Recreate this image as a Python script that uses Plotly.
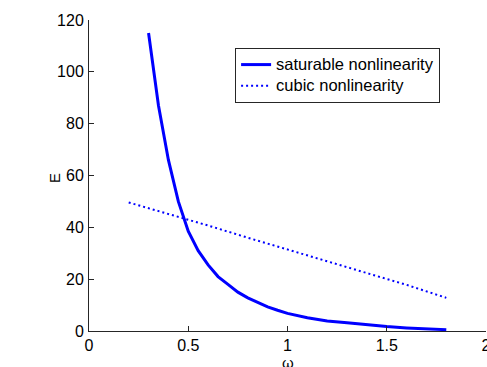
import plotly.graph_objects as go

# Saturable nonlinearity: omega vs E
omega_sat = [0.30, 0.35, 0.40, 0.45, 0.50, 0.55, 0.60, 0.65, 0.70, 0.75, 0.80,
             0.85, 0.90, 0.95, 1.00, 1.10, 1.20, 1.30, 1.40, 1.50, 1.60, 1.70, 1.80]
E_sat = [115, 87, 66, 50, 38.5, 31, 25.5, 21, 18, 15, 12.8,
         11, 9.3, 8, 6.8, 5.1, 3.9, 3.2, 2.4, 1.7, 1.2, 0.8, 0.5]

# Cubic nonlinearity
omega_cub = [0.2, 0.4, 0.6, 0.8, 1.0, 1.2, 1.4, 1.6, 1.8]
E_cub = [49.6, 45.3, 40.7, 36.0, 31.5, 27.1, 22.5, 17.8, 12.8]

x_ticks = [0, 0.5, 1, 1.5, 2]
x_tick_labels = ["0", "0.5", "1", "1.5", "2"]
y_ticks = [0, 20, 40, 60, 80, 100, 120]

FONT = "Liberation Sans, Arial, Helvetica, sans-serif"
AX = "#262626"

fig = go.Figure()
fig.add_trace(go.Scatter(x=omega_sat, y=E_sat, mode="lines",
                         name='<span style="font-size:16.5px">saturable nonlinearity</span>',
                         line=dict(color="#0000FF", width=3)))
fig.add_trace(go.Scatter(x=omega_cub, y=E_cub, mode="lines",
                         name='<span style="font-size:16.5px">cubic nonlinearity</span>',
                         line=dict(color="#0000FF", width=2, dash="2px,3px")))

plot_w = 487 - 89 - 1
plot_h = 367 - 20 - 36

fig.update_layout(
    width=487, height=367,
    margin=dict(l=89, r=1, t=20, b=36, autoexpand=False),
    paper_bgcolor="white", plot_bgcolor="white",
    font=dict(family=FONT, size=16, color="black"),
    showlegend=True,
    legend=dict(x=0.368, y=0.91, xanchor="left", yanchor="top",
                bordercolor=AX, borderwidth=1, bgcolor="white",
                font=dict(size=14, family=FONT), tracegroupgap=0),
    xaxis=dict(range=[0, 2], tickvals=x_ticks, ticktext=x_tick_labels,
               showline=True, linecolor=AX, linewidth=1, mirror=False, automargin=False,
               ticks="inside", ticklen=5, tickcolor=AX, showgrid=False, zeroline=False,
               ticklabeloverflow="allow"),
    yaxis=dict(range=[0, 120], tickvals=y_ticks, automargin=False,
               showline=True, linecolor=AX, linewidth=1, mirror=False,
               ticks="inside", ticklen=5, tickcolor=AX, showgrid=False, zeroline=False,
               ticklabelstandoff=1, ticklabeloverflow="allow"),
    annotations=[
        dict(text="E", x=(54 - 89) / plot_w, y=(331 - 178) / plot_h,
             xref="paper", yref="paper", showarrow=False, textangle=-90,
             xanchor="center", yanchor="middle", font=dict(size=15)),
        dict(text="ω", x=0.5, y=-0.068, xref="paper", yref="paper", showarrow=False,
             xanchor="center", yanchor="top", font=dict(size=15)),
    ],
)

fig.write_html("out.html", config={"displayModeBar": False},
               post_script=["document.body.style.margin='0';"])
